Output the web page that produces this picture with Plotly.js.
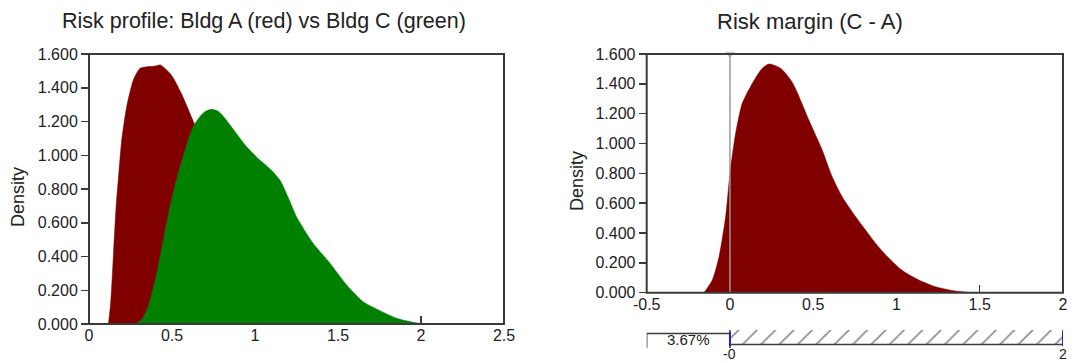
<!DOCTYPE html>
<html>
<head>
<meta charset="utf-8">
<script src="https://cdn.plot.ly/plotly-3.0.1.min.js"></script>
<style>
  html, body { margin: 0; padding: 0; background: #ffffff; }
  #chart { width: 1080px; height: 363px; }
</style>
</head>
<body>
<div id="chart"></div>
<script>
// ---- Data ----
// Bldg A (red) density
const bldgAX = [0.117, 0.13, 0.141, 0.163, 0.18, 0.197, 0.227, 0.267, 0.307, 0.35, 0.39, 0.43, 0.496, 0.556, 0.616, 0.68, 0.75, 0.85, 0.95, 1.1, 1.3, 1.5, 1.7];
const bldgAY = [0.0, 0.12, 0.30, 0.695, 0.9, 1.09, 1.288, 1.446, 1.515, 1.525, 1.527, 1.535, 1.476, 1.367, 1.23, 1.08, 0.92, 0.7, 0.5, 0.3, 0.12, 0.04, 0.0];
// Bldg C (green) density
const bldgCX = [0.28, 0.32, 0.357, 0.408, 0.448, 0.488, 0.538, 0.598, 0.628, 0.669, 0.70, 0.739, 0.78, 0.81, 0.88, 0.95, 1.02, 1.09, 1.15, 1.2, 1.25, 1.35, 1.452, 1.552, 1.652, 1.753, 1.853, 1.954, 2.02];
const bldgCY = [0.0, 0.03, 0.103, 0.30, 0.498, 0.695, 0.893, 1.09, 1.17, 1.23, 1.26, 1.272, 1.26, 1.23, 1.14, 1.05, 0.98, 0.92, 0.853, 0.75, 0.636, 0.478, 0.36, 0.231, 0.132, 0.079, 0.034, 0.01, 0.0];
// Risk margin (C - A) density
const marginX = [-0.156, -0.106, -0.066, -0.026, 0.0, 0.034, 0.074, 0.134, 0.194, 0.234, 0.304, 0.374, 0.474, 0.554, 0.614, 0.674, 0.754, 0.834, 0.874, 0.934, 1.034, 1.134, 1.234, 1.334, 1.45];
const marginY = [0.0, 0.085, 0.241, 0.51, 0.80, 1.068, 1.27, 1.403, 1.504, 1.533, 1.504, 1.41, 1.157, 0.956, 0.777, 0.643, 0.51, 0.39, 0.331, 0.255, 0.15, 0.085, 0.04, 0.015, 0.0];

// Axis ticks
const yTicks = [0, 0.2, 0.4, 0.6, 0.8, 1.0, 1.2, 1.4, 1.6];
const leftXTicks = [0, 0.5, 1, 1.5, 2, 2.5];
const leftXTickText = ['0', '0.5', '1', '1.5', '2', '2.5'];
const rightXTicks = [-0.5, 0, 0.5, 1, 1.5, 2];
const rightXTickText = ['-0.5', '0', '0.5', '1', '1.5', '2'];

// Probability bar under the margin chart
const barRange = [-0.5, 2];
const splitValue = [0];
const splitPct = ['3.67%'];
const barTickVals = [0, 2];
const barTickText = ['-0', '2'];

// Titles
const titleLeft = 'Risk profile: Bldg A (red) vs Bldg C (green)';
const titleRight = 'Risk margin (C - A)';
const yTitle = 'Density';

// ---- Styling ----
const W = 1080, H = 363;
const FONT = 'Liberation Sans, Arial, sans-serif';
const TXT = '#222222';
const AX = '#3a3a3a';
const RED = '#800000';
const GREEN = '#008000';

const px = v => v / W;
const py = v => 1 - v / H;

const traces = [
  { type: 'scatter', mode: 'lines', x: bldgAX, y: bldgAY, xaxis: 'x', yaxis: 'y',
    fill: 'tozeroy', fillcolor: RED, line: { color: RED, width: 0.5, shape: 'spline', smoothing: 0.6 }, hoverinfo: 'skip' },
  { type: 'scatter', mode: 'lines', x: bldgCX, y: bldgCY, xaxis: 'x', yaxis: 'y',
    fill: 'tozeroy', fillcolor: GREEN, line: { color: GREEN, width: 0.5, shape: 'spline', smoothing: 0.6 }, hoverinfo: 'skip' },
  { type: 'scatter', mode: 'lines', x: marginX, y: marginY, xaxis: 'x2', yaxis: 'y2',
    fill: 'tozeroy', fillcolor: RED, line: { color: RED, width: 0.5, shape: 'spline', smoothing: 0.7 }, hoverinfo: 'skip' },
  // split marker line at 0
  { type: 'scatter', mode: 'lines+markers', x: [splitValue[0], splitValue[0]], y: [yTicks[0], yTicks[yTicks.length - 1]],
    xaxis: 'x2', yaxis: 'y2', cliponaxis: false,
    line: { color: '#9a9a9a', width: 1.5 },
    marker: { symbol: 'triangle-down-open', size: [0, 7], color: '#9a9a9a', line: { color: '#9a9a9a', width: 1 } },
    hoverinfo: 'skip' },
  // Probability bar: left part (percentage shown via annotation)
  { type: 'bar', orientation: 'h', y: [0], base: [barRange[0]], x: [splitValue[0] - barRange[0]],
    xaxis: 'x3', yaxis: 'y3', width: 1, textposition: 'none',
    marker: { color: '#ffffff', line: { color: AX, width: 1.5 } }, hoverinfo: 'skip' },
  // Probability bar: hatched right part
  { type: 'bar', orientation: 'h', y: [0], base: [splitValue[0]], x: [barRange[1] - splitValue[0]],
    xaxis: 'x3', yaxis: 'y3', width: 1, textposition: 'none',
    marker: { color: '#ffffff', line: { color: AX, width: 1.5 },
      pattern: { shape: '/', fgcolor: '#8a8a8a', bgcolor: '#ffffff', size: 13, solidity: 0.12 } },
    hoverinfo: 'skip' },
  // blue delimiters
  { type: 'scatter', mode: 'lines', x: [splitValue[0], splitValue[0], null, barRange[1], barRange[1]],
    y: [-0.4, 0.4, null, -0.4, 0.4], xaxis: 'x3', yaxis: 'y3', cliponaxis: false,
    line: { color: '#2a2aa8', width: 2 }, hoverinfo: 'skip' }
];

const tickFont = { family: FONT, size: 16, color: TXT };

const yAxisCommon = {
  range: [0, 1.6], tickvals: yTicks, tickformat: '.3f', ticks: 'outside', ticklen: 7, tickwidth: 1.5,
  tickcolor: AX, showgrid: false, zeroline: false, showline: false, tickfont: tickFont, fixedrange: true
};
const xAxisCommon = {
  ticks: 'inside', ticklen: 8, tickwidth: 1.5, tickcolor: AX, showgrid: false, zeroline: false,
  showline: false, tickfont: tickFont, layer: 'below traces', fixedrange: true
};

const barLabelAnnotations = barTickVals.map((v, i) => ({
  text: barTickText[i], xref: 'x3', yref: 'paper', x: v, y: 0, xanchor: 'center', yanchor: 'bottom',
  showarrow: false, borderpad: 0, font: { family: FONT, size: 14, color: TXT }
}));

const layout = {
  width: W, height: H, autosize: false,
  margin: { l: 0, r: 0, t: 0, b: 0, pad: 0 },
  paper_bgcolor: '#ffffff', plot_bgcolor: '#ffffff',
  showlegend: false,
  font: { family: FONT, color: TXT },
  xaxis: Object.assign({}, xAxisCommon, { domain: [px(89), px(504)], range: [0, 2.5], tickvals: leftXTicks, ticktext: leftXTickText, anchor: 'y' }),
  yaxis: Object.assign({}, yAxisCommon, { domain: [py(324), py(54)], anchor: 'x' }),
  xaxis2: Object.assign({}, xAxisCommon, { domain: [px(646.7), px(1063)], range: [-0.5, 2], tickvals: rightXTicks, ticktext: rightXTickText, anchor: 'y2' }),
  yaxis2: Object.assign({}, yAxisCommon, { domain: [py(292.7), py(54)], anchor: 'x2' }),
  xaxis3: { domain: [px(646.7), px(1063)], range: barRange, anchor: 'y3', showticklabels: false,
    ticks: '', showgrid: false, zeroline: false, showline: false, fixedrange: true },
  yaxis3: { domain: [py(348), py(330)], range: [-0.5, 0.5], anchor: 'x3', showticklabels: false, ticks: '',
    showgrid: false, zeroline: false, showline: false, fixedrange: true },
  shapes: [
    { type: 'rect', xref: 'x domain', yref: 'y domain', x0: 0, x1: 1, y0: 0, y1: 1, line: { color: AX, width: 2 }, layer: 'above' },
    { type: 'rect', xref: 'x2 domain', yref: 'y2 domain', x0: 0, x1: 1, y0: 0, y1: 1, line: { color: AX, width: 2 }, layer: 'above' }
  ],
  annotations: [
    { text: titleLeft, xref: 'paper', yref: 'paper', x: px(263.5), y: py(21), xanchor: 'center', yanchor: 'middle',
      showarrow: false, font: { family: FONT, size: 21.5, color: TXT } },
    { text: titleRight, xref: 'paper', yref: 'paper', x: px(810), y: py(21), xanchor: 'center', yanchor: 'middle',
      showarrow: false, font: { family: FONT, size: 22, color: TXT } },
    { text: yTitle, xref: 'paper', yref: 'paper', x: px(18), y: py(197), xanchor: 'center', yanchor: 'middle',
      textangle: -90, showarrow: false, font: { family: FONT, size: 18, color: TXT } },
    { text: yTitle, xref: 'paper', yref: 'paper', x: px(577), y: py(181), xanchor: 'center', yanchor: 'middle',
      textangle: -90, showarrow: false, font: { family: FONT, size: 18, color: TXT } },
    { text: splitPct[0], xref: 'x3', yref: 'y3', x: (barRange[0] + splitValue[0]) / 2, y: 0, xanchor: 'center', yanchor: 'middle',
      showarrow: false, font: { family: FONT, size: 15, color: TXT } }
  ].concat(barLabelAnnotations)
};

Plotly.newPlot('chart', traces, layout, { staticPlot: true, displayModeBar: false });
</script>
</body>
</html>
